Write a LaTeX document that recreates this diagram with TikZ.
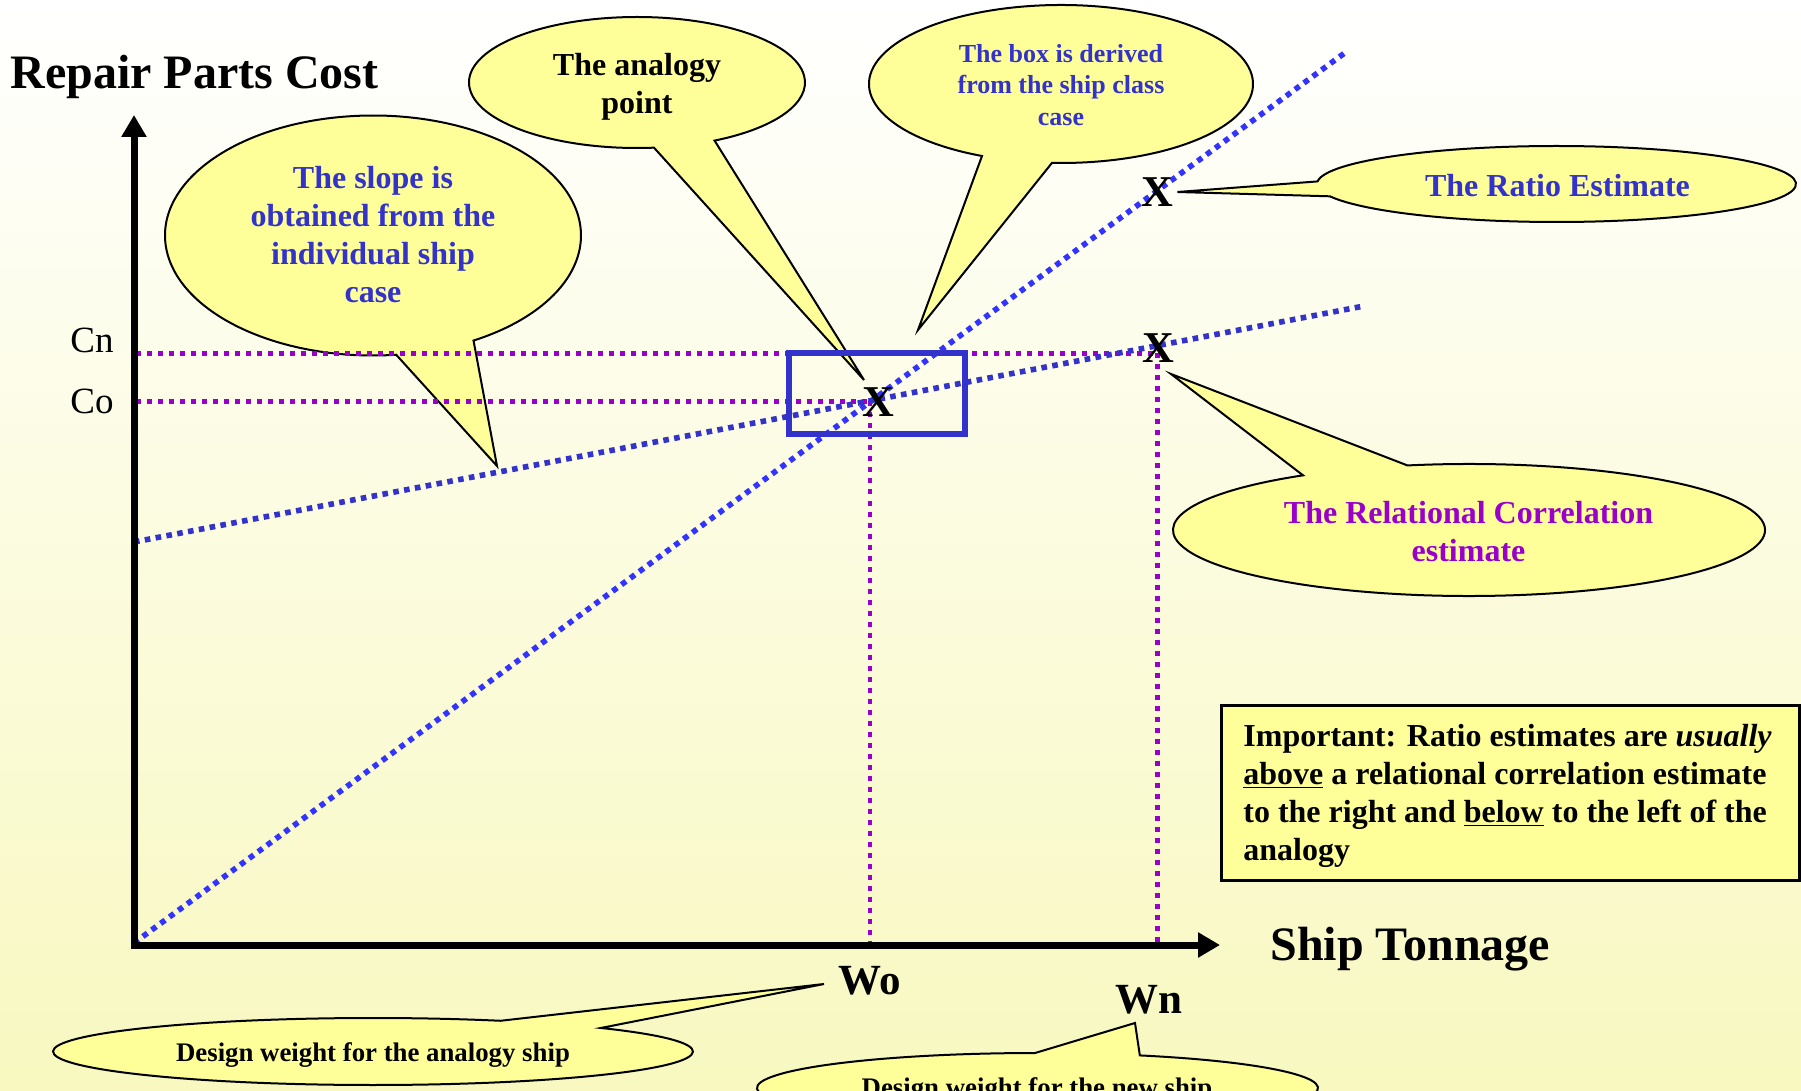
\documentclass[tikz,border=0pt]{standalone}
\usepackage{fontspec}
\setmainfont{Liberation Serif}
\usetikzlibrary{arrows.meta}
\definecolor{cfill}{RGB}{255,255,153}
\definecolor{tblue}{RGB}{51,51,204}
\definecolor{lblue}{RGB}{51,51,255}
\definecolor{purp}{RGB}{153,0,204}
\definecolor{bgmid}{RGB}{255,255,238}
\definecolor{bgbot}{RGB}{248,248,192}
\newcommand\pxfont[2]{\fontsize{#1}{#2}\selectfont}
\tikzset{
  callout/.style={draw=black, line width=1pt, fill=cfill, line join=miter},
  bluedot/.style={draw=lblue, line width=2.8pt, dash pattern=on 2.8pt off 2.7pt},
  purpdot/.style={draw=purp, line width=2.35pt, dash pattern=on 2.5pt off 3pt},
  axis/.style={draw=black, line width=3.5pt, line join=miter,
    {Triangle[length=11pt,width=12pt]}-{Triangle[length=11pt,width=12pt]}},
  bbox/.style={draw=tblue, line width=2.8pt},
  impbox/.style={draw=black, line width=1.5pt, fill=cfill},
  big/.style={inner sep=0pt, font=\bfseries\pxfont{24}{28}},
  tsixteen/.style={inner sep=0pt, font=\bfseries\pxfont{16}{19}},
  tthirteen/.style={inner sep=0pt, font=\bfseries\pxfont{13}{15.75}},
  tdesign/.style={inner sep=0pt, font=\bfseries\pxfont{13.4}{16}},
  wlab/.style={inner sep=0pt, font=\bfseries\pxfont{21.5}{25}},
  clab/.style={inner sep=0pt, font=\pxfont{18.5}{22}},
  xmark/.style={inner sep=0pt, font=\bfseries\pxfont{22}{26}},
}
\begin{document}
\begin{tikzpicture}[x=0.5pt,y=-0.5pt]
\useasboundingbox (0,0) rectangle (1801,1091);
\clip (0,0) rectangle (1801,1091);
\fill[top color=white, middle color=bgmid, bottom color=bgbot] (0,0) rectangle (1801,1091);

% callout shapes
\draw[callout] (373,235.5) ++(83.6:208 and 120) arc[start angle=83.6, end angle=421.1, x radius=208, y radius=120] -- (497,466) -- cycle;
\draw[callout] (637,82.5) ++(84.2:168 and 65.5) arc[start angle=84.2, end angle=422.5, x radius=168, y radius=65.5] -- (864,380) -- cycle;
\draw[callout] (1061,84) ++(114.3:192 and 79) arc[start angle=114.3, end angle=452.7, x radius=192, y radius=79] -- (918,330) -- cycle;
\draw[callout] (1556.5,184) ++(183.9:239.5 and 38) arc[start angle=183.9, end angle=521.1, x radius=239.5, y radius=38] -- (1177.5,192) -- cycle;
\draw[callout] (1469,530) ++(258:296 and 66) arc[start angle=258, end angle=595.9, x radius=296, y radius=66] -- (1171,374) -- cycle;
\draw[callout] (373,1051.5) ++(315.4:320 and 33.5) arc[start angle=315.4, end angle=653.5, x radius=320, y radius=33.5] -- (824,984) -- cycle;
\draw[callout] (1037.5,1088) ++(291.4:280.5 and 35) arc[start angle=291.4, end angle=629.5, x radius=280.5, y radius=35] -- (1135,1023) -- cycle;

% coordinates
\coordinate (O) at (134,945);
\coordinate (ytop) at (134,115);
\coordinate (xend) at (1220,945);
\coordinate (cnL) at (136,353.5);
\coordinate (cnR) at (1157.5,353.5);
\coordinate (coL) at (136,401.5);
\coordinate (coR) at (870,401.5);
\coordinate (woB) at (870,945);
\coordinate (wnB) at (1157.5,945);
\coordinate (s1) at (134,943);
\coordinate (s2) at (1346,52);
\coordinate (f1) at (134,542);
\coordinate (f2) at (1364,306);

% purple guide lines
\draw[purpdot] (cnL) -- (cnR);
\draw[purpdot] (coL) -- (coR);
\draw[purpdot] (coR) -- (woB);
\draw[purpdot] (cnR) -- (wnB);

% blue estimate lines
\draw[bluedot] (s1) -- (s2);
\draw[bluedot, draw=tblue] (f1) -- (f2);

% analogy box
\draw[bbox] (789,353) rectangle (965,434);

% axes
\draw[axis] (ytop) -- (O) -- (xend);

% important box
\draw[impbox] (1221,705) rectangle (1799,880);
\node[tsixteen, anchor=north west, align=left] (imptxt) at (1243,724)
  {Important: Ratio estimates are \textit{usually}\\\underline{above} a relational correlation estimate\\to the right and \underline{below} to the left of the\\analogy};

% axis labels
\node[big, anchor=base west] (ylab) at (10,88.5) {Repair Parts Cost};
\node[big, anchor=base west] (xlab) at (1270,960) {Ship Tonnage};
\node[clab, anchor=base] (cn) at (92,353) {Cn};
\node[clab, anchor=base] (co) at (92,414) {Co};
\node[wlab, anchor=base west] (wo) at (838,994) {Wo};
\node[wlab, anchor=base west] (wn) at (1115,1013) {Wn};

% X marks
\node[xmark, anchor=base] (xa) at (878.5,417) {X};
\node[xmark, anchor=base] (xr) at (1157,207) {X};
\node[xmark, anchor=base] (xc) at (1158.5,363) {X};

% callout texts
\node[tsixteen, text=tblue, anchor=north, align=center] (slopetxt) at (373,166) {The slope is\\obtained from the\\individual ship\\case};
\node[tsixteen, anchor=north, align=center] (analtxt) at (637,53) {The analogy\\point};
\node[tthirteen, text=tblue, anchor=north, align=center] (boxtxt) at (1061,44) {The box is derived\\from the ship class\\case};
\node[tsixteen, text=tblue, anchor=base] (ratiotxt) at (1557.5,196.4) {The Ratio Estimate};
\node[tsixteen, text=purp, anchor=north, align=center] (reltxt) at (1468.5,501) {The Relational Correlation\\estimate};
\node[tdesign, anchor=base] (dwa) at (373,1061) {Design weight for the analogy ship};
\node[tdesign, anchor=base] (dwn) at (1037,1096) {Design weight for the new ship};
\end{tikzpicture}
\end{document}
